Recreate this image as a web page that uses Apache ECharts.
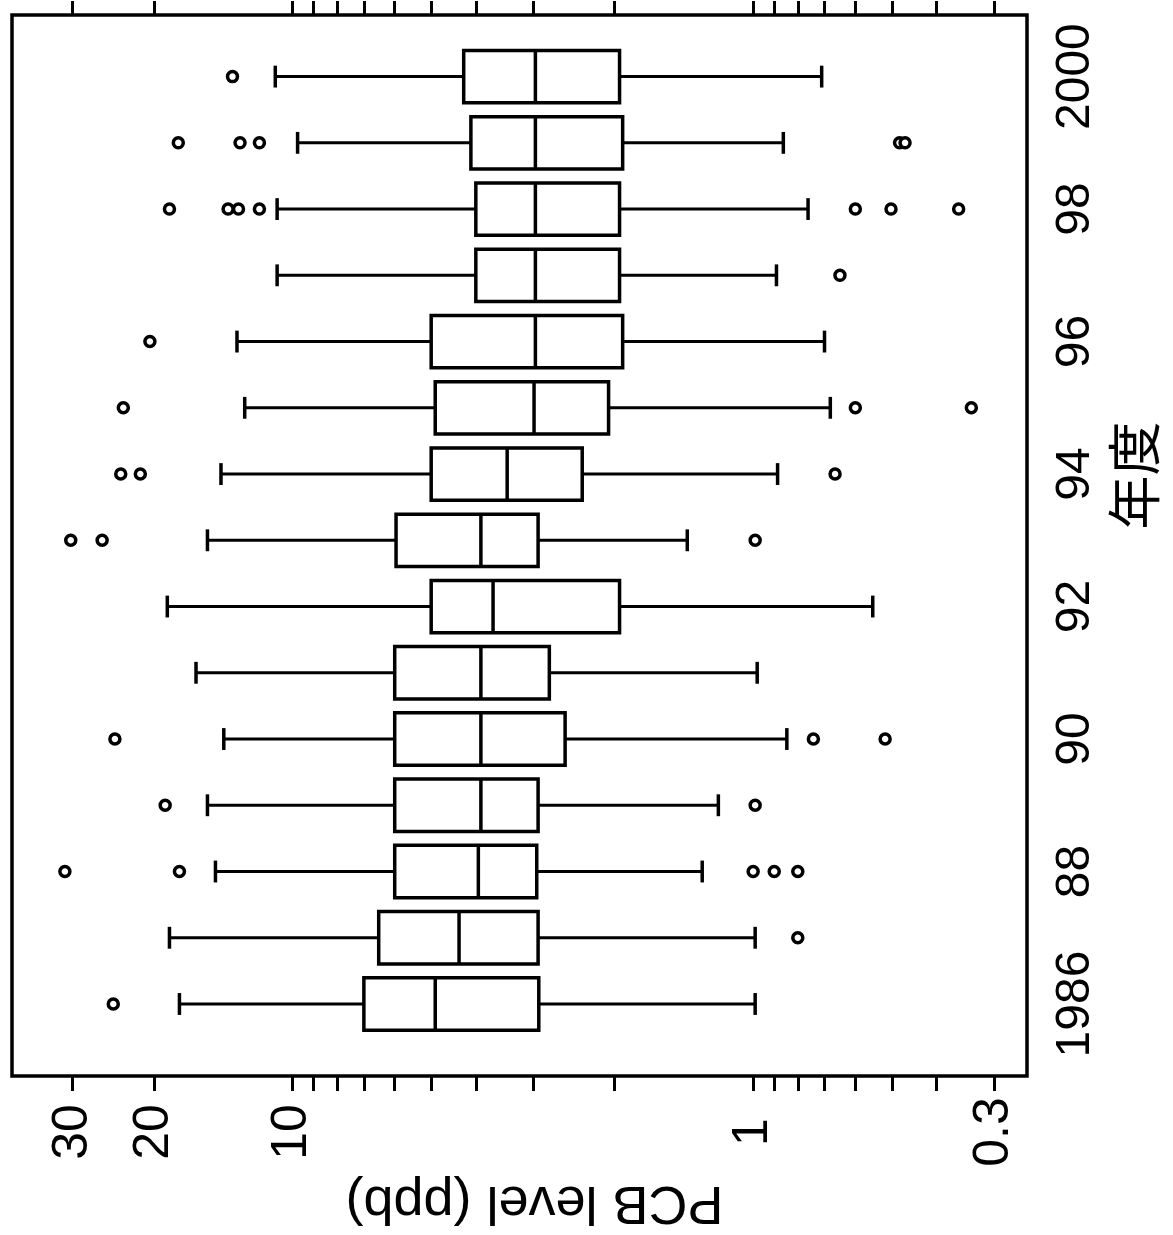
<!DOCTYPE html>
<html>
<head>
<meta charset="utf-8">
<script src="https://cdn.jsdelivr.net/npm/echarts@6/dist/echarts.min.js"></script>
<style>
html,body{margin:0;padding:0;background:#fff;}
#c{width:1173px;height:1235px;}
</style>
</head>
<body>
<div id="c"></div>
<script>
// ---- data (PCB level in ppb) ----
const years = [1986,1987,1988,1989,1990,1991,1992,1993,1994,1995,1996,1997,1998,1999,2000];
const whiskerHigh = [17.6,18.5,14.7,15.3,14.1,16.2,18.7,15.3,14.3,12.7,13.2,10.8,10.8,9.75,10.9];
const q3 = [7.0,6.5,6.0,6.0,6.0,6.0,5.0,5.96,5.0,4.9,5.0,4.0,4.0,4.1,4.25];
const median = [4.9,4.35,3.95,3.9,3.9,3.9,3.67,3.9,3.42,2.99,2.97,2.97,2.97,2.97,2.97];
const q1 = [2.92,2.93,2.95,2.93,2.56,2.77,1.95,2.93,2.35,2.06,1.92,1.95,1.95,1.92,1.95];
const whiskerLow = [0.99,0.99,1.29,1.19,0.845,0.98,0.55,1.39,0.885,0.68,0.70,0.89,0.76,0.86,0.71];
const outliers = [
  [24.5],
  [0.80],
  [31.2,17.6,1.0,0.90,0.80],
  [18.9,0.99],
  [24.3,0.74,0.517],
  [],
  [],
  [30.3,25.9,0.99],
  [23.6,21.4,0.664],
  [23.3,0.60,0.336],
  [20.4],
  [0.648],
  [18.5,13.8,13.1,11.8,0.60,0.502,0.358],
  [17.7,13.0,11.8,0.481,0.468],
  [13.5]
];
const ppbTicks = [30,20,10,9,8,7,6,5,4,3,2,1,0.9,0.8,0.7,0.6,0.5,0.4,0.3];
const ppbLabels = [30,20,10,1,0.3];
const yearLabels = [1986,1988,1990,1992,1994,1996,1998,2000];

// axis ranges (log10 of ppb, and years)
const X_MIN = -0.5945, X_MAX = 1.609;
const Y_MIN = 1984.913, Y_MAX = 2000.93;

const lg = Math.log10;
const boxData = years.map((y,i)=>[y, lg(whiskerLow[i]), lg(q1[i]), lg(median[i]), lg(q3[i]), lg(whiskerHigh[i])]);
const outlierData = [];
years.forEach((y,i)=>outliers[i].forEach(v=>outlierData.push([lg(v), y])));

const LATIN = 'Liberation Sans, Arial, sans-serif';
const fmtPpb = v => String(parseFloat(Math.pow(10, v).toPrecision(2)));
const fmtYear = v => (v === 1986 || v === 2000) ? String(v) : String(v % 100);

const chart = echarts.init(document.getElementById('c'), null, {renderer:'canvas'});
const LW = 3.5;
chart.setOption({
  animation: false,
  backgroundColor: '#fff',
  grid: {left:12, right:146, top:15, bottom:159, show:true, borderColor:'#000', borderWidth:LW,
         backgroundColor:'transparent', containLabel:false, outerBoundsMode:'none'},
  xAxis: [{
    type:'value', position:'bottom', inverse:true, min:X_MIN, max:X_MAX,
    axisLine:{show:false}, splitLine:{show:false},
    axisTick:{show:true, customValues: ppbTicks.map(lg), length:15, lineStyle:{color:'#000', width:3}},
    axisLabel:{customValues: ppbLabels.map(lg), rotate:90, margin:56, align:'center', verticalAlign:'middle',
               formatter:fmtPpb, fontSize:50, color:'#000', fontFamily:LATIN, hideOverlap:false},
    name:'PCB level (ppb)', nameLocation:'middle', nameGap:83, nameRotate:180,
    nameTextStyle:{fontSize:54, color:'#000', fontFamily:LATIN, padding:[0,30,0,0]}
  },{
    type:'value', position:'top', inverse:true, min:X_MIN, max:X_MAX,
    axisLine:{show:false}, splitLine:{show:false},
    axisTick:{show:true, customValues: ppbTicks.map(lg), length:14, lineStyle:{color:'#000', width:3}},
    axisLabel:{show:false}
  }],
  yAxis: {
    type:'value', position:'right', min:Y_MIN, max:Y_MAX,
    axisLine:{show:false}, axisTick:{show:false}, splitLine:{show:false},
    axisLabel:{customValues: yearLabels, rotate:90, margin:25, formatter:fmtYear,
               fontSize:48, color:'#000', fontFamily:LATIN, hideOverlap:false},
    name:'年度', nameLocation:'middle', nameGap:64, nameRotate:90,
    nameTextStyle:{fontSize:54, color:'#000', fontFamily:'Noto Sans CJK JP', padding:[0,0,0,140]}
  },
  series: [{
    type:'custom',
    xAxisIndex:0, yAxisIndex:0,
    encode:{x:[1,2,3,4,5], y:0},
    data: boxData,
    renderItem: function(params, api){
      const yr = api.value(0);
      const lo = api.coord([api.value(1), yr]);
      const a = api.coord([api.value(2), yr]);
      const md = api.coord([api.value(3), yr]);
      const b = api.coord([api.value(4), yr]);
      const hi = api.coord([api.value(5), yr]);
      const band = Math.abs(api.size([0,1])[1]);
      const bh = band * 0.79, ch = band * 0.33;
      const cy = md[1];
      const st = {stroke:'#000', lineWidth:LW, fill:null};
      return {type:'group', children:[
        {type:'line', shape:{x1:b[0], y1:cy, x2:hi[0], y2:cy}, style:{stroke:'#000', lineWidth:3}},
        {type:'line', shape:{x1:a[0], y1:cy, x2:lo[0], y2:cy}, style:{stroke:'#000', lineWidth:3}},
        {type:'line', shape:{x1:hi[0], y1:cy-ch/2, x2:hi[0], y2:cy+ch/2}, style:{stroke:'#000', lineWidth:LW}},
        {type:'line', shape:{x1:lo[0], y1:cy-ch/2, x2:lo[0], y2:cy+ch/2}, style:{stroke:'#000', lineWidth:LW}},
        {type:'rect', shape:{x:Math.min(a[0],b[0]), y:cy-bh/2, width:Math.abs(a[0]-b[0]), height:bh},
          style:{fill:'#fff', stroke:'#000', lineWidth:LW}},
        {type:'line', shape:{x1:md[0], y1:cy-bh/2, x2:md[0], y2:cy+bh/2}, style:st}
      ]};
    }
  },{
    type:'scatter',
    xAxisIndex:0, yAxisIndex:0,
    data: outlierData,
    symbol:'circle', symbolSize:10,
    itemStyle:{color:'#fff', borderColor:'#000', borderWidth:3.5, opacity:1}
  }]
});
</script>
</body>
</html>
